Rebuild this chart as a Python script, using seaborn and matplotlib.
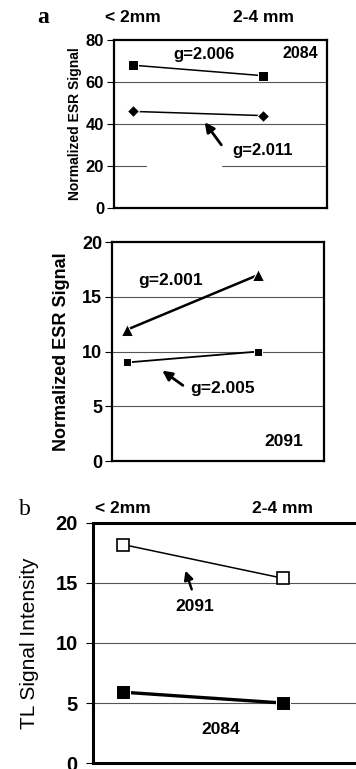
import pandas as pd
import seaborn as sns
import matplotlib.pyplot as plt

# grain size classes
sizes = ['< 2mm', '2-4 mm']

# panel a, sample 2084 (normalized ESR signal)
esr_2084_g2006 = [68, 63]
esr_2084_g2011 = [46, 44]
# panel a, sample 2091
esr_2091_g2001 = [12, 17]
esr_2091_g2005 = [9, 10]
# panel b, TL signal intensity
tl_2091 = [18.2, 15.4]
tl_2084 = [5.9, 5.0]

sns.set_style('white')
plt.rcParams['font.family'] = ['Liberation Sans', 'DejaVu Sans']
plt.rcParams['text.color'] = 'black'
plt.rcParams['axes.labelcolor'] = 'black'
plt.rcParams['xtick.color'] = 'black'
plt.rcParams['ytick.color'] = 'black'

fig = plt.figure(figsize=(3.56, 7.69), dpi=100)


def series(ax, vals, **kw):
    df = pd.DataFrame({'size': sizes, 'value': vals})
    sns.lineplot(df, x='size', y='value', ax=ax, color='black', legend=False, **kw)


def frame(ax, ylim, yticks, tick_fs, lw, pad=2):
    ax.set_ylim(*ylim)
    ax.set_yticks(yticks)
    ax.set_xlabel('')
    ax.set_ylabel('')
    for s in ax.spines.values():
        s.set_color('black')
        s.set_linewidth(lw)
    ax.tick_params(axis='y', direction='out', length=5, width=0.8,
                   labelsize=tick_fs, pad=pad, left=True)
    for lab in ax.get_yticklabels():
        lab.set_fontweight('bold')


# ---- panel a (top): 2084 ----
ax1 = fig.add_axes([0.320, 0.7295, 0.598, 0.2185])
series(ax1, esr_2084_g2006, marker='s', markersize=7, linewidth=1.1)
series(ax1, esr_2084_g2011, marker='D', markersize=6.5, linewidth=1.1)
ax1.set_xlim(-0.146, 1.49)
frame(ax1, (0, 80), [0, 20, 40, 60, 80], 12, 1.6)
ax1.axhline(60, color='#555555', lw=0.8, zorder=0)
ax1.axhline(40, color='#555555', lw=0.8, zorder=0)
ax1.axhline(20, xmin=0.0, xmax=0.15, color='#555555', lw=0.8, zorder=0)
ax1.axhline(20, xmin=0.51, xmax=1.0, color='#555555', lw=0.8, zorder=0)
ax1.xaxis.tick_top()
ax1.tick_params(axis='x', length=0, pad=11, labelsize=12.5)
for lab in ax1.get_xticklabels():
    lab.set_fontweight('bold')
ax1.set_ylabel('Normalized ESR Signal', fontsize=10, fontweight='bold', labelpad=3)
ax1.text(0.308, 72.9, 'g=2.006', fontsize=12, fontweight='bold', va='center')
ax1.text(1.423, 73.8, '2084', fontsize=11.5, fontweight='bold', va='center', ha='right')
ax1.text(0.762, 27.6, 'g=2.011', fontsize=12, fontweight='bold', va='center')
ax1.annotate('', xy=(0.539, 41.9), xytext=(0.692, 29),
             arrowprops=dict(arrowstyle='-|>', color='black', lw=2, mutation_scale=14))
fig.text(0.12, 0.977, 'a', family=['Liberation Serif', 'DejaVu Serif'], fontsize=17,
         fontweight='bold', ha='center', va='center')

# ---- panel a (bottom): 2091 ----
ax2 = fig.add_axes([0.3146, 0.4005, 0.5955, 0.2848])
series(ax2, esr_2091_g2001, marker='^', markersize=8.5, linewidth=1.8)
series(ax2, esr_2091_g2005, marker='s', markersize=6, linewidth=1.3)
ax2.set_xlim(-0.115, 1.50)
frame(ax2, (0, 20), [0, 5, 10, 15, 20], 13, 1.6)
for yv in (5, 10, 15):
    ax2.axhline(yv, color='#555555', lw=0.8, zorder=0)
ax2.set_xticks([])
ax2.set_ylabel('Normalized ESR Signal', fontsize=13, fontweight='bold', labelpad=9)
ax2.text(0.083, 16.5, 'g=2.001', fontsize=12.5, fontweight='bold', va='center')
ax2.text(0.48, 6.6, 'g=2.005', fontsize=12.5, fontweight='bold', va='center')
ax2.text(1.343, 1.74, '2091', fontsize=12.5, fontweight='bold', va='center', ha='right')
ax2.annotate('', xy=(0.251, 8.4), xytext=(0.442, 6.76),
             arrowprops=dict(arrowstyle='-|>', color='black', lw=2, mutation_scale=14))

# ---- panel b: TL ----
ax3 = fig.add_axes([0.261, 0.0078, 0.739, 0.3121])
series(ax3, tl_2091, marker='s', markersize=9, markerfacecolor='white',
       markeredgecolor='black', markeredgewidth=1.2, linewidth=1.1)
series(ax3, tl_2084, marker='s', markersize=9.5, linewidth=2.4)
ax3.set_xlim(-0.19, 1.46)
frame(ax3, (0, 20), [0, 5, 10, 15, 20], 14.5, 2.2, pad=6)
ax3.spines['right'].set_visible(False)
for yv in (5, 10, 15):
    ax3.axhline(yv, color='#555555', lw=0.8, zorder=0)
ax3.xaxis.tick_top()
ax3.tick_params(axis='x', length=0, pad=5, labelsize=12.5)
for lab in ax3.get_xticklabels():
    lab.set_fontweight('bold')
ax3.set_ylabel('TL Signal Intensity', fontsize=15, labelpad=12)
ax3.text(0.4475, 13.0, '2091', fontsize=12.5, fontweight='bold', va='center', ha='center')
ax3.text(0.61, 2.83, '2084', fontsize=12.5, fontweight='bold', va='center', ha='center')
ax3.annotate('', xy=(0.385, 16.25), xytext=(0.435, 14.25),
             arrowprops=dict(arrowstyle='-|>', color='black', lw=1.8, mutation_scale=13))
fig.text(0.07, 0.338, 'b', family=['Liberation Serif', 'DejaVu Serif'], fontsize=17,
         ha='center', va='center')

fig.savefig('out.png', dpi=100)
